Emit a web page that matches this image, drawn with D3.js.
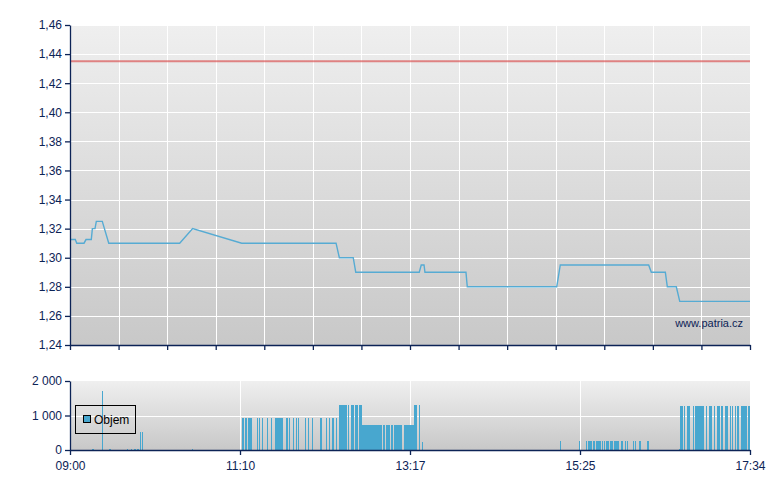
<!DOCTYPE html>
<html>
<head>
<meta charset="utf-8">
<script src="https://cdn.jsdelivr.net/npm/d3@7"></script>
<style>
  html, body { margin: 0; padding: 0; background: #ffffff; }
  svg { display: block; font-family: "Liberation Sans", Arial, sans-serif; }
</style>
</head>
<body>
<svg id="chart" width="780" height="490"></svg>
<script>
// ---- DATA ----
// price line: minutes after 09:00 and price
const priceMinutes = [0, 4.0, 5.1, 10.6, 12.1, 16.1, 16.9, 18.9, 19.9, 24.4, 29.3, 82.9, 92.7, 129.8,
  201.1, 203.6, 214.1, 216.0, 264.0, 265.5, 267.6, 268.3, 299.3, 300.3, 367.9, 370.6, 437.4, 439.4,
  450.0, 451.5, 458.3, 460.9, 514];
const priceValues = [1.3125, 1.3125, 1.31, 1.31, 1.3125, 1.3125, 1.32, 1.32, 1.325, 1.325, 1.31, 1.31, 1.32, 1.31,
  1.31, 1.30, 1.30, 1.29, 1.29, 1.295, 1.295, 1.29, 1.29, 1.28, 1.28, 1.295, 1.295, 1.29,
  1.29, 1.28, 1.28, 1.27, 1.27];
const referencePrice = 1.435;

// volume bars: start minute, end minute, volume
const volStart = [16.6, 24.2, 29.5, 43.1, 46.1, 48.4, 50.6, 52.9, 54.2, 92.2,
  130.0, 132.5, 134.5, 141.4, 143.1, 144.9, 148.9, 151.9, 154.9, 163.3, 165.5, 168.6, 170.8, 172.3,
  177.6, 179.7, 182.9, 188.9, 193.5, 195.8, 198.0, 201.1,
  203.3, 210.1, 212.4, 215.4, 218.5,
  220.7, 236.6, 238.9, 242.6, 244.9, 252.5,
  260.0, 263.8, 266.1,
  370.4, 384.7, 390.0, 391.5, 395.3, 397.6, 402.1, 403.6, 405.2, 408.2, 411.2, 416.5, 419.5, 421.0,
  425.6, 427.1, 430.1, 436.1, 460.4,
  461.2, 463.9, 466.4, 470.9, 472.4, 480.7, 483.0, 486.8, 489.0, 492.1, 495.1, 498.9, 500.4, 502.7,
  504.2, 507.2, 512.5];
const volEnd = [18.1, 24.9, 31.0, 43.8, 46.9, 49.9, 52.2, 53.6, 54.9, 93.0,
  131.5, 134.0, 137.6, 142.1, 143.9, 145.6, 149.7, 152.6, 161.0, 164.8, 166.3, 169.3, 171.6, 173.1,
  178.4, 180.4, 183.7, 190.5, 194.3, 196.6, 199.6, 201.8,
  209.4, 210.9, 214.7, 217.7, 220.7,
  235.8, 238.1, 241.9, 244.2, 250.9, 260.0,
  262.3, 264.6, 266.8,
  371.1, 385.5, 390.8, 394.6, 396.8, 401.4, 402.9, 404.4, 407.4, 410.4, 415.0, 418.0, 420.3, 421.8,
  426.3, 427.8, 431.6, 437.7, 461.2,
  463.4, 464.9, 468.7, 471.7, 479.2, 481.5, 485.3, 487.6, 491.3, 493.6, 497.4, 499.7, 501.2, 503.4,
  505.7, 511.7, 514.0];
const volValues = [40, 1700, 40, 40, 40, 40, 40, 520, 520, 40,
  930, 930, 930, 930, 930, 930, 930, 930, 930, 930, 930, 930, 930, 930,
  930, 930, 930, 930, 930, 930, 930, 930,
  1300, 1300, 1300, 1300, 1300,
  720, 720, 720, 720, 720, 720,
  1300, 1300, 230,
  260, 260, 260, 260, 260, 260, 260, 260, 260, 260, 260, 260, 260, 260,
  260, 260, 260, 260, 40,
  1270, 1270, 1270, 1270, 1270, 1270, 1270, 1270, 1270, 1270, 1270, 1270, 1270, 1270,
  1270, 1270, 1270];

const priceTicks = [1.24, 1.26, 1.28, 1.30, 1.32, 1.34, 1.36, 1.38, 1.40, 1.42, 1.44, 1.46];
const volTicks = [0, 1000, 2000];
const xTickMinutes = [0, 128.5, 257, 385.5, 514];
const xTickLabels = ["09:00", "11:10", "13:17", "15:25", "17:34"];
const seriesName = "Objem";
const watermark = "www.patria.cz";

// ---- LAYOUT ----
const svg = d3.select("#chart");
const L = 70, R = 750;
const mainTop = 25, mainBottom = 345;
const volTop = 381, volBottom = 450;
const navy = "#0c2356";
const lineBlue = "#56abd3";
const barBlue = "#48a7cf";

const x = d3.scaleLinear().domain([0, 514]).range([L, R]);
const y = d3.scaleLinear().domain([1.24, 1.46]).range([mainBottom, mainTop]);
const yv = d3.scaleLinear().domain([0, 2000]).range([volBottom, volTop]);

const defs = svg.append("defs");
const g1 = defs.append("linearGradient").attr("id", "bg").attr("x1", 0).attr("y1", 0).attr("x2", 0).attr("y2", 1);
g1.append("stop").attr("offset", "0%").attr("stop-color", "#efefef");
g1.append("stop").attr("offset", "100%").attr("stop-color", "#c8c8c8");

// backgrounds
svg.append("rect").attr("x", L).attr("y", mainTop).attr("width", R - L).attr("height", mainBottom - mainTop).attr("fill", "url(#bg)");
svg.append("rect").attr("x", L).attr("y", volTop).attr("width", R - L).attr("height", volBottom - volTop).attr("fill", "url(#bg)");

// main grid
const gridX = d3.range(0, 15).map(i => i * 514 / 14);
const grid = svg.append("g").attr("stroke", "#ffffff").attr("stroke-width", 1).attr("shape-rendering", "crispEdges");
grid.selectAll("line.h").data(priceTicks.slice(1)).join("line")
  .attr("x1", L).attr("x2", R).attr("y1", d => Math.round(y(d)) + 0.5).attr("y2", d => Math.round(y(d)) + 0.5);
grid.selectAll("line.v").data(gridX.slice(1)).join("line")
  .attr("y1", mainTop).attr("y2", mainBottom).attr("x1", d => Math.round(x(d)) + 0.5).attr("x2", d => Math.round(x(d)) + 0.5);

// volume grid
const vgrid = svg.append("g").attr("stroke", "#ffffff").attr("stroke-width", 1).attr("shape-rendering", "crispEdges");
vgrid.selectAll("line.h").data([1000]).join("line")
  .attr("x1", L).attr("x2", R).attr("y1", d => Math.round(yv(d)) + 0.5).attr("y2", d => Math.round(yv(d)) + 0.5);
vgrid.selectAll("line.v").data(xTickMinutes.slice(1, 4)).join("line")
  .attr("y1", volTop).attr("y2", volBottom).attr("x1", d => Math.round(x(d)) + 0.5).attr("x2", d => Math.round(x(d)) + 0.5);

// reference line
svg.append("line").attr("x1", L).attr("x2", R)
  .attr("y1", y(referencePrice)).attr("y2", y(referencePrice))
  .attr("stroke", "#d84a4a").attr("stroke-opacity", 0.65).attr("stroke-width", 2);

// price line
const pts = priceMinutes.map((m, i) => [m, priceValues[i]]);
svg.append("path").datum(pts)
  .attr("fill", "none").attr("stroke", lineBlue).attr("stroke-width", 1.4)
  .attr("d", d3.line().x(d => x(d[0])).y(d => y(d[1])));

// volume bars
const bars = volStart.map((s, i) => ({ s, e: volEnd[i], v: volValues[i] }));
svg.append("g").selectAll("rect").data(bars).join("rect")
  .attr("x", d => x(d.s)).attr("width", d => Math.max(1, x(d.e) - x(d.s)))
  .attr("y", d => yv(d.v)).attr("height", d => yv(0) - yv(d.v))
  .attr("fill", barBlue).attr("shape-rendering", "crispEdges");

// axes
function styleAxis(g) {
  g.selectAll("path.domain").attr("stroke", navy).attr("stroke-width", 1.3);
  g.selectAll(".tick line").attr("stroke", navy).attr("stroke-width", 1.3);
  g.selectAll(".tick text").attr("fill", navy).style("font-size", "12px")
    .style("font-family", "'Liberation Sans', Arial, sans-serif");
}
const fmtPrice = d => d.toFixed(2).replace(".", ",");
const fmtVol = d => d3.format(",")(d).replace(/,/g, " ");

svg.append("g").attr("transform", `translate(${L},0)`)
  .call(d3.axisLeft(y).tickValues(priceTicks).tickFormat(fmtPrice).tickSize(5).tickSizeOuter(0).tickPadding(3))
  .call(styleAxis);
svg.append("g").attr("transform", `translate(0,${mainBottom})`)
  .call(d3.axisBottom(x).tickValues(gridX).tickFormat("").tickSize(5).tickSizeOuter(0))
  .call(styleAxis);

svg.append("g").attr("transform", `translate(${L},0)`)
  .call(d3.axisLeft(yv).tickValues(volTicks).tickFormat(fmtVol).tickSize(5).tickSizeOuter(0).tickPadding(3))
  .call(styleAxis);
svg.append("g").attr("transform", `translate(0,${volBottom})`)
  .call(d3.axisBottom(x).tickValues(xTickMinutes).tickFormat((d, i) => xTickLabels[i]).tickSize(5).tickSizeOuter(0).tickPadding(6))
  .call(styleAxis);

// watermark
svg.append("text").attr("x", 743).attr("y", 327).attr("text-anchor", "end")
  .attr("fill", navy).style("font-size", "11px").text(watermark);

// legend
const lg = svg.append("g");
lg.append("rect").attr("x", 75.5).attr("y", 405.5).attr("width", 60).attr("height", 28)
  .attr("fill", "none").attr("stroke", "#000").attr("stroke-width", 1);
lg.append("rect").attr("x", 83.5).attr("y", 415.5).attr("width", 7).attr("height", 7)
  .attr("fill", barBlue).attr("stroke", "#000").attr("stroke-width", 1);
lg.append("text").attr("x", 94).attr("y", 424).attr("fill", "#000")
  .style("font-size", "12px").text(seriesName);
</script>
</body>
</html>
